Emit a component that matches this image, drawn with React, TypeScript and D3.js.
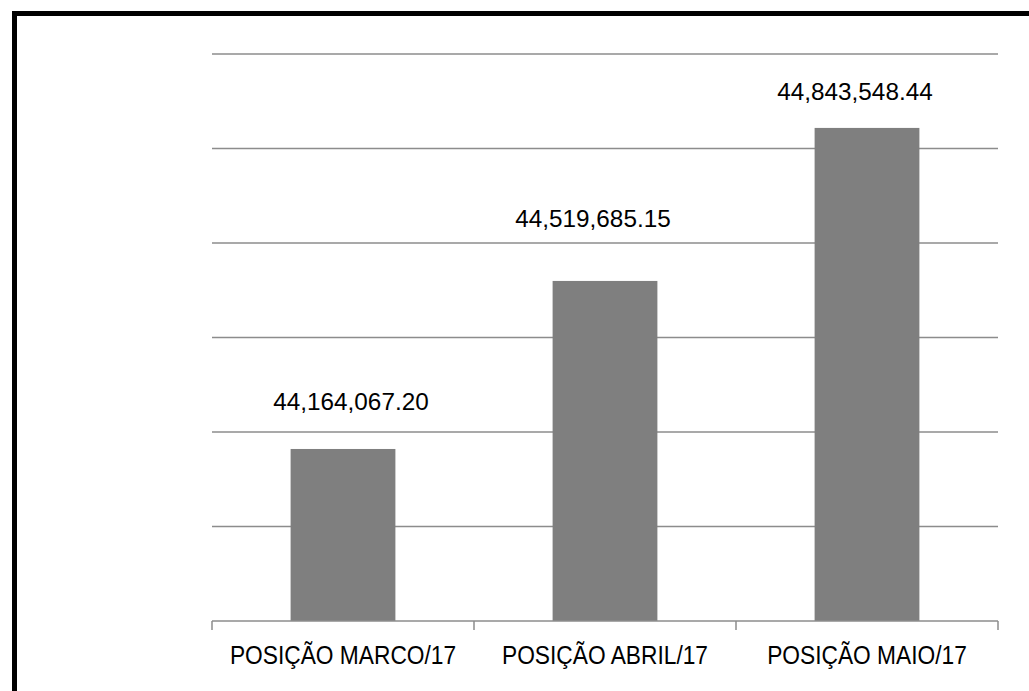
import { useEffect, useRef } from 'react';
import * as d3 from 'd3';

const categories = ['POSIÇÃO MARCO/17', 'POSIÇÃO ABRIL/17', 'POSIÇÃO MAIO/17'];
const values = [44164067.2, 44519685.15, 44843548.44];
const yTicks = [43800000, 44000000, 44200000, 44400000, 44600000, 44800000, 45000000];

// hand-placed data labels in the original, nudges relative to bar centre / top
const labelNudge = [
  { dx: 8, dy: -39 },
  { dx: -12, dy: -54 },
  { dx: -12, dy: -28 },
];

const width = 1029;
const height = 691;

export default function App() {
  const svgRef = useRef<SVGSVGElement>(null);

  useEffect(() => {
    if (!svgRef.current) return;
    const svg = d3.select(svgRef.current);
    svg.selectAll('*').remove();

    const left = 212;
    const right = 998;
    const top = 54;
    const bottom = 621;

    const x = d3.scaleBand<string>()
      .domain(categories)
      .range([left, right])
      .padding(0);

    const y = d3.scaleLinear()
      .domain([yTicks[0], yTicks[yTicks.length - 1]])
      .range([bottom, top]);

    const font = '"Liberation Sans", Arial, sans-serif';

    // gridlines
    svg.append('g')
      .selectAll('line')
      .data(yTicks.slice(1))
      .enter().append('line')
      .attr('x1', left)
      .attr('x2', right)
      .attr('y1', d => y(d))
      .attr('y2', d => y(d))
      .attr('stroke', '#8c8c8c')
      .attr('stroke-width', 1.5);

    const barW = x.bandwidth() * 0.4;

    svg.append('g')
      .selectAll('rect')
      .data(values)
      .enter().append('rect')
      .attr('x', (d, i) => x(categories[i])! + (x.bandwidth() - barW) / 2)
      .attr('y', d => y(d))
      .attr('width', barW)
      .attr('height', d => bottom - y(d))
      .attr('fill', '#7f7f7f');

    // x axis
    const axis = svg.append('g').attr('transform', `translate(0,${bottom})`);
    axis.call(d3.axisBottom(x).tickSize(0).tickFormat(() => ''));
    axis.select('.domain').remove();
    axis.append('line')
      .attr('x1', left).attr('x2', right)
      .attr('y1', 0).attr('y2', 0)
      .attr('stroke', '#8c8c8c').attr('stroke-width', 1.5);
    const edges = [...categories.map(c => x(c)!), right];
    axis.selectAll('line.tk')
      .data(edges)
      .enter().append('line')
      .attr('class', 'tk')
      .attr('x1', d => d).attr('x2', d => d)
      .attr('y1', 0).attr('y2', 9)
      .attr('stroke', '#8c8c8c').attr('stroke-width', 1.5);

    svg.append('g')
      .selectAll('text')
      .data(categories)
      .enter().append('text')
      .attr('transform', d => `translate(${x(d)! + x.bandwidth() / 2},${bottom + 43}) scale(0.91,1)`)
      .attr('text-anchor', 'middle')
      .attr('font-family', font)
      .attr('font-size', 25)
      .attr('fill', '#000')
      .text(d => d);

    // data labels
    const fmt = d3.format(',.2f');
    svg.append('g')
      .selectAll('text')
      .data(values)
      .enter().append('text')
      .attr('x', (d, i) => x(categories[i])! + x.bandwidth() / 2 + labelNudge[i].dx)
      .attr('y', (d, i) => y(d) + labelNudge[i].dy)
      .attr('text-anchor', 'middle')
      .attr('font-family', font)
      .attr('font-size', 24.3)
      .attr('fill', '#000')
      .text(d => fmt(d));

    // outer frame (runs off the right and bottom edges)
    svg.append('rect')
      .attr('x', 14.5)
      .attr('y', 13.5)
      .attr('width', width + 20)
      .attr('height', height + 20)
      .attr('fill', 'none')
      .attr('stroke', '#000')
      .attr('stroke-width', 5);
  }, []);

  return (
    <svg
      ref={svgRef}
      width={width}
      height={height}
      style={{ position: 'absolute', left: 0, top: 0, background: '#fff' }}
    />
  );
}
